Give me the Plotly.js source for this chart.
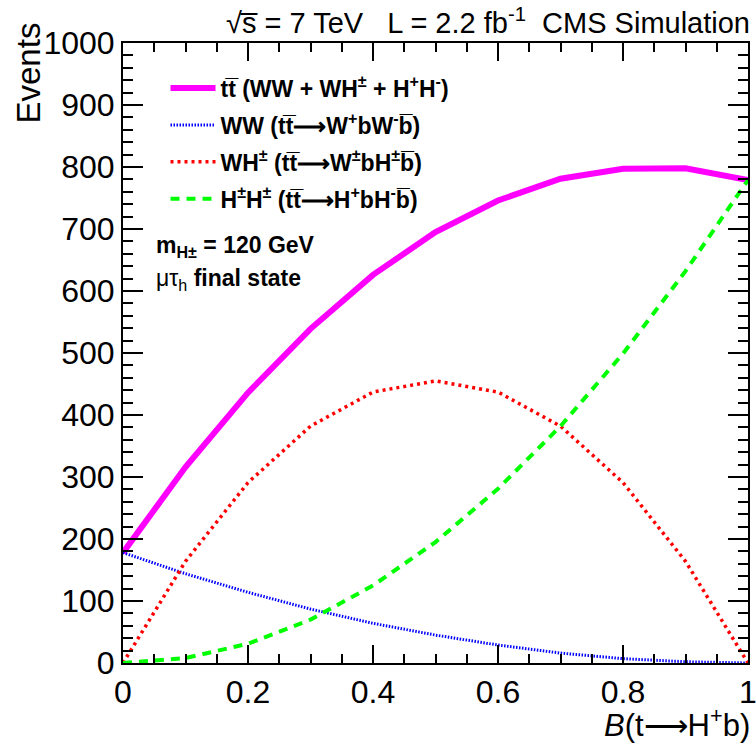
<!DOCTYPE html>
<html><head><meta charset="utf-8">
<script src="https://cdn.plot.ly/plotly-3.0.1.min.js"></script>
<style>body{margin:0;background:#fff}#c{width:756px;height:750px}</style>
</head><body><div id="c"></div>
<script>
const bValues = [0, 0.1, 0.2, 0.3, 0.4, 0.5, 0.6, 0.7, 0.8, 0.9, 1.0];
const totalEvents = [178, 316, 436, 539, 626, 695, 746, 781, 797, 798, 779];
const wwEvents = [178, 144, 114, 87, 64, 45, 29, 16, 7, 2, 0];
const whEvents = [0, 164, 291, 382, 437, 455, 437, 382, 291, 164, 0];
const hhEvents = [0, 8, 31, 70, 125, 195, 281, 382, 499, 632, 779];
const seriesNames = [
  "<b>tt\u0305 (WW + WH<sup>±</sup> + H<sup>+</sup>H<sup>-</sup>)</b>",
  "<b>WW (tt\u0305\u27F6W<sup>+</sup>bW<sup>-</sup>b\u0305)</b>",
  "<b>WH<sup>±</sup> (tt\u0305\u27F6W<sup>±</sup>bH<sup>±</sup>b\u0305)</b>",
  "<b>H<sup>±</sup>H<sup>±</sup> (tt\u0305\u27F6H<sup>+</sup>bH<sup>-</sup>b\u0305)</b>"
];
const yTicks = [0,100,200,300,400,500,600,700,800,900,1000];
const xTicks = [0,0.2,0.4,0.6,0.8,1];
const xTickText = ["0","0.2","0.4","0.6","0.8","1"];

const font = "Liberation Sans, Arial, sans-serif";
const traces = [
  {x: bValues, y: totalEvents, name: seriesNames[0], legendgroup:"a", line:{color:"#ff00ff", width:6}},
  {x: bValues, y: wwEvents, name: seriesNames[1], legendgroup:"b", line:{color:"#0000ff", width:3, dash:"1.5px,1.5px"}},
  {x: bValues, y: whEvents, name: seriesNames[2], legendgroup:"c", line:{color:"#ff0000", width:3.5, dash:"3px,4px"}},
  {x: bValues, y: hhEvents, name: seriesNames[3], legendgroup:"d", line:{color:"#00ff00", width:4, dash:"9px,7px"}}
].map(t => Object.assign({type:"scatter", mode:"lines", hoverinfo:"skip"}, t));

const axisCommon = {
  showgrid:false, zeroline:false, showline:true, linecolor:"#000", linewidth:2,
  mirror:"ticks", ticks:"inside", tickcolor:"#000", tickwidth:2, ticklabeloverflow:"allow",
  tickfont:{family:font, size:32, color:"#000"}
};
const layout = {
  width:756, height:750,
  margin:{l:123, r:8, t:43, b:87},
  paper_bgcolor:"#fff", plot_bgcolor:"#fff",
  showlegend:true,
  legend:{x:0.068, y:0.962, xanchor:"left", yanchor:"top", bgcolor:"rgba(0,0,0,0)",
    font:{family:font, size:23, color:"#000"}, itemwidth:45, tracegroupgap:4, traceorder:"grouped"},
  xaxis: Object.assign({}, axisCommon, {range:[0,1], tickvals:xTicks, ticktext:xTickText, ticklen:18,
    minor:{dtick:0.05, ticklen:9, ticks:"inside", tickcolor:"#000", tickwidth:2}}),
  yaxis: Object.assign({}, axisCommon, {range:[0,1000], tickvals:yTicks, ticklen:20,
    minor:{dtick:20, ticklen:10, ticks:"inside", tickcolor:"#000", tickwidth:2}}),
  annotations:[
    {xref:"paper", yref:"paper", x:1.006, y:1.0, yshift:22, xanchor:"right", yanchor:"middle", showarrow:false,
     text:"\u221As\u0305 = 7 TeV\u00A0\u00A0\u00A0L = 2.2 fb<sup>-1</sup>\u00A0\u00A0CMS Simulation", font:{family:font, size:29, color:"#000"}},
    {xref:"paper", yref:"paper", x:0, xshift:-95, y:1.0, yshift:22, xanchor:"center", yanchor:"top", textangle:-90, showarrow:false,
     text:"Events", font:{family:font, size:33, color:"#000"}},
    {xref:"paper", yref:"paper", x:1.006, y:0, yshift:-60, xanchor:"right", yanchor:"middle", showarrow:false,
     text:"<i>B</i>(t\u27F6H<sup>+</sup>b)", font:{family:font, size:31, color:"#000"}},
    {xref:"paper", yref:"paper", x:0.05, y:0.672, xanchor:"left", yanchor:"middle", showarrow:false,
     text:"<b>m<sub>H±</sub> = 120 GeV</b>", font:{family:font, size:23, color:"#000"}},
    {xref:"paper", yref:"paper", x:0.05, y:0.618, xanchor:"left", yanchor:"middle", showarrow:false,
     text:"\u03BC\u03C4<sub>h</sub> <b>final state</b>", font:{family:font, size:23, color:"#000"}}
  ]
};
Plotly.newPlot("c", traces, layout, {staticPlot:true});
</script></body></html>
